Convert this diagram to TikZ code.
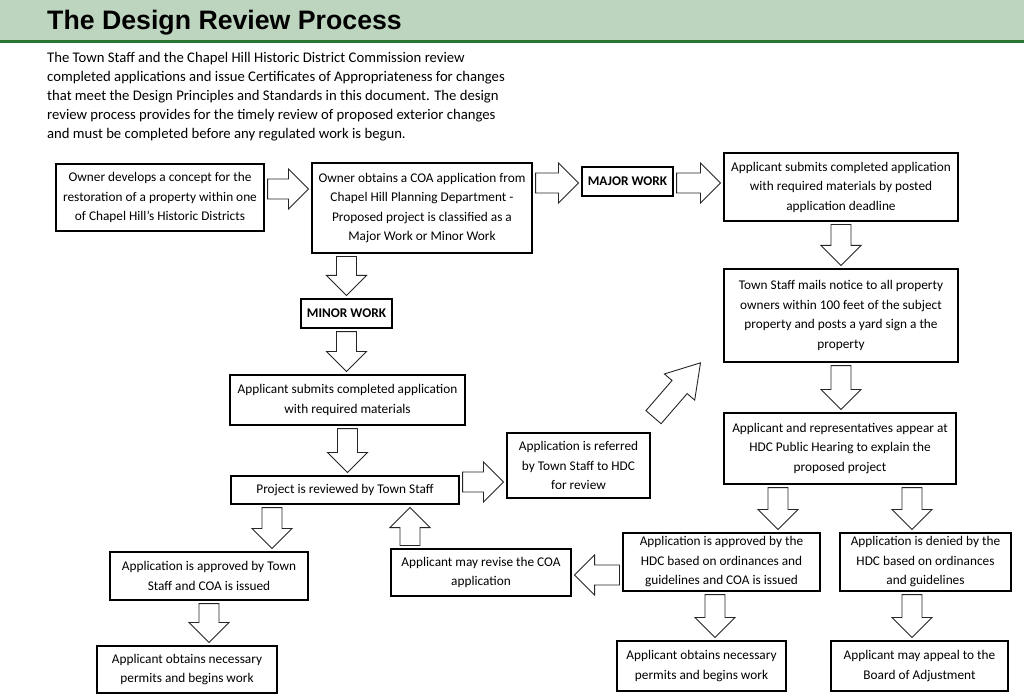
\documentclass[tikz,border=0pt]{standalone}
\usepackage{fontspec}
\setmainfont{Carlito}
\newfontfamily\titlefont{Liberation Sans}
\usetikzlibrary{calc}

\definecolor{barfill}{RGB}{189,213,190}
\definecolor{barline}{RGB}{38,118,48}

% hollow block arrow between two points, [head length]
\newcommand{\hollowarrow}[3][20pt]{%
  \coordinate (ha) at #2;
  \coordinate (hb) at #3;
  \coordinate (hs) at ($(ha)!3pt!(hb)$);
  \coordinate (ht) at ($(hb)!3pt!(ha)$);
  \coordinate (hm) at ($(ht)!#1!(hs)$);
  \draw[arrowline] ($(hs)!10pt!90:(ht)$) -- ($(hm)!10pt!90:(ht)$) -- ($(hm)!20pt!90:(ht)$) -- (ht)
    -- ($(hm)!20pt!-90:(ht)$) -- ($(hm)!10pt!-90:(ht)$) -- ($(hs)!10pt!-90:(ht)$) -- cycle;
}

\begin{document}
\begin{tikzpicture}[x=1pt, y=-1pt,
  box/.style={draw=black, line width=1.1pt, fill=white, align=center, inner sep=0pt,
    font=\fontsize{13.3}{19.5}\selectfont},
  tag/.style={box, font=\fontsize{13.3}{16}\selectfont\bfseries},
  arrowline/.style={draw=black!85, line width=0.9pt, fill=white, line join=miter}]
\useasboundingbox[fill=white] (0,0) rectangle (1024,700);

% title bar
\fill[barfill] (0,0) rectangle (1024,40);
\fill[barline] (0,40) rectangle (1024,43);
\node[anchor=base west, inner sep=0pt, font=\titlefont\fontsize{26.7}{30}\selectfont\bfseries] (title) at (47,30) {The Design Review Process};

\node[anchor=north west, inner sep=0pt, align=left, font=\fontsize{14.7}{19}\selectfont] (intro) at (47,52.5)
  {The Town Staff and the Chapel Hill Historic District Commission review\\
   completed applications and issue Certificates of Appropriateness for changes\\
   that meet the Design Principles and Standards in this document. The design\\
   review process provides for the timely review of proposed exterior changes\\
   and must be completed before any regulated work is begun.};

% boxes
\node[box, minimum width=208, minimum height=67] (own) at (160,197.5) {Owner develops a concept for the\\restoration of a property within one\\of Chapel Hill’s Historic Districts};
\node[box, minimum width=220, minimum height=90] (coa) at (422,208) {Owner obtains a COA application from\\Chapel Hill Planning Department -\\Proposed project is classified as a\\Major Work or Minor Work};
\node[tag, minimum width=91, minimum height=29] (major) at (627.5,181.5) {MAJOR WORK};
\node[box, minimum width=234, minimum height=68] (subm) at (841,187) {Applicant submits completed application\\with required materials by posted\\application deadline};
\node[box, minimum width=234, minimum height=93] (mail) at (841,315.5) {Town Staff mails notice to all property\\owners within 100 feet of the subject\\property and posts a yard sign a the\\property};
\node[box, minimum width=232, minimum height=71] (hear) at (840,448.5) {Applicant and representatives appear at\\HDC Public Hearing to explain the\\proposed project};
\node[tag, minimum width=91, minimum height=29] (minor) at (346.5,313.5) {MINOR WORK};
\node[box, minimum width=235, minimum height=50] (subn) at (347.5,400) {Applicant submits completed application\\with required materials};
\node[box, minimum width=228, minimum height=28] (rev) at (345,490) {Project is reviewed by Town Staff};
\node[box, minimum width=143, minimum height=65] (ref) at (578.5,465.5) {Application is referred\\by Town Staff to HDC\\for review};
\node[box, minimum width=198, minimum height=48] (okts) at (209,576) {Application is approved by Town\\Staff and COA is issued};
\node[box, minimum width=180, minimum height=47] (perml) at (187,669.5) {Applicant obtains necessary\\permits and begins work};
\node[box, minimum width=180, minimum height=47] (revise) at (481,572.5) {Applicant may revise the COA\\application};
\node[box, minimum width=197, minimum height=58] (okhdc) at (721.5,562) {Application is approved by the\\HDC based on ordinances and\\guidelines and COA is issued};
\node[box, minimum width=171, minimum height=58] (deny) at (925.5,562) {Application is denied by the\\HDC based on ordinances\\and guidelines};
\node[box, minimum width=169, minimum height=50] (permr) at (701.5,666) {Applicant obtains necessary\\permits and begins work};
\node[box, minimum width=177, minimum height=50] (appeal) at (919.5,666) {Applicant may appeal to the\\Board of Adjustment};

% arrows
\hollowarrow{(own.east |- 0,189)}{(coa.west |- 0,189)}
\hollowarrow{(coa.east |- 0,183)}{(major.west |- 0,183)}
\hollowarrow{(major.east |- 0,183)}{(subm.west |- 0,183)}
\hollowarrow{(subm.south)}{(mail.north)}
\hollowarrow{(mail.south)}{(hear.north -| mail.south)}
\hollowarrow{(coa.south -| minor.north)}{(minor.north)}
\hollowarrow{(minor.south)}{(subn.north -| minor.south)}
\hollowarrow{(subn.south)}{(rev.north -| subn.south)}
\hollowarrow{(rev.east |- 0,482)}{(ref.west |- 0,482)}
\hollowarrow[32pt]{($(ref.north east)+(1,-13)$)}{($(mail.south west)+(-21,-2)$)}
\hollowarrow{(rev.south -| 272,0)}{(okts.north -| 272,0)}
\hollowarrow{(okts.south)}{(perml.north -| okts.south)}
\hollowarrow{(revise.north -| 410,0)}{(rev.south -| 410,0)}
\hollowarrow{(okhdc.west |- 0,575)}{(revise.east |- 0,575)}
\hollowarrow{(hear.south -| 778,0)}{(okhdc.north -| 778,0)}
\hollowarrow{(hear.south -| 912,0)}{(deny.north -| 912,0)}
\hollowarrow{(okhdc.south -| 715,0)}{(permr.north -| 715,0)}
\hollowarrow{(deny.south -| 912,0)}{(appeal.north -| 912,0)}

\end{tikzpicture}
\end{document}
